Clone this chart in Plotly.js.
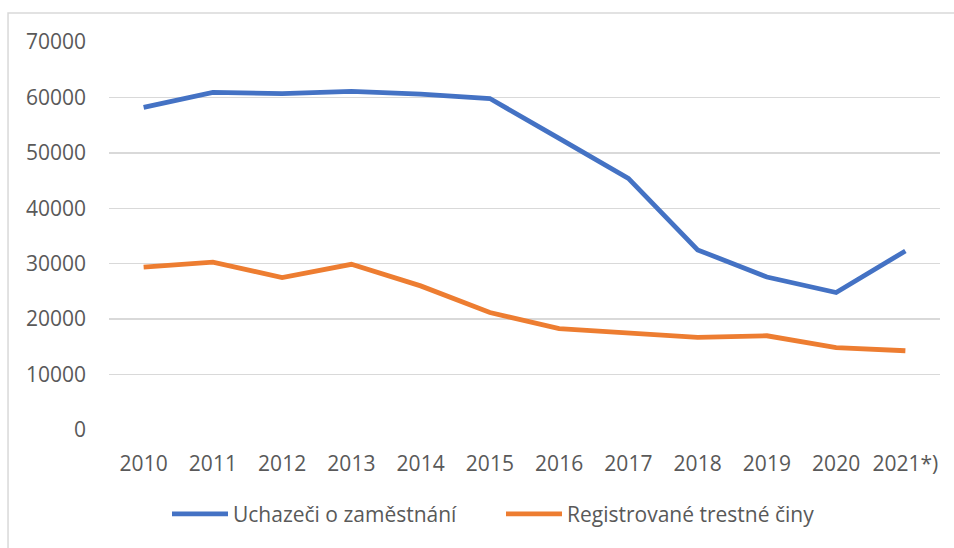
<!DOCTYPE html>
<html>
<head>
<meta charset="utf-8">
<script src="https://cdn.plot.ly/plotly-3.0.1.min.js"></script>
<style>
html,body{margin:0;padding:0;background:#fff;}
#chart{width:954px;height:548px;}
</style>
</head>
<body>
<div id="chart"></div>
<script>
const years = ['2010','2011','2012','2013','2014','2015','2016','2017','2018','2019','2020','2021*)'];
const uchazeci = [58200, 60900, 60700, 61100, 60600, 59800, 52600, 45400, 32500, 27600, 24800, 32300];
const trestneCiny = [29400, 30300, 27500, 29900, 26000, 21200, 18300, 17400, 16700, 17000, 14850, 14300];
const seriesNames = ['Uchazeči o zaměstnání', 'Registrované trestné činy'];
const yTicks = [0, 10000, 20000, 30000, 40000, 50000, 60000, 70000];

const font = {family: '"Open Sans", "Noto Sans", sans-serif', size: 21, color: '#595959'};

const traces = [
  {x: years, y: uchazeci, name: seriesNames[0], type: 'scatter', mode: 'lines',
   line: {color: '#4472C4', width: 4.8}},
  {x: years, y: trestneCiny, name: seriesNames[1], type: 'scatter', mode: 'lines',
   line: {color: '#ED7D31', width: 4.8}}
];

const layout = {
  width: 954, height: 548,
  margin: {l: 109, r: 14, t: 42, b: 118},
  paper_bgcolor: '#ffffff', plot_bgcolor: '#ffffff',
  font: font,
  showlegend: true,
  legend: {orientation: 'h', x: 0.0698, xanchor: 'left', y: -0.217, yanchor: 'middle',
           font: font, itemwidth: 56, entrywidth: 263, entrywidthmode: 'pixels',
           tracegroupgap: 0, traceorder: 'normal'},
  xaxis: {type: 'category', range: [-0.5, 11.5], showgrid: false, zeroline: false, showline: false, ticks: '',
          tickfont: font, ticklabelstandoff: 19, fixedrange: true},
  yaxis: {range: [0, 70000], tickvals: yTicks, ticktext: yTicks.map(String),
          showgrid: true, gridcolor: '#D9D9D9', gridwidth: 1.3, zeroline: false, showline: false,
          ticks: '', tickfont: font, ticklabelstandoff: 22, fixedrange: true},
  shapes: [
    {type: 'rect', xref: 'paper', yref: 'paper', x0: -0.1215, x1: 1.3, y0: -0.6, y1: 1.0747,
     line: {color: '#D9D9D9', width: 1.5}, fillcolor: 'rgba(0,0,0,0)', layer: 'below'}
  ]
};

Plotly.newPlot('chart', traces, layout, {displayModeBar: false, staticPlot: true});
</script>
</body>
</html>
